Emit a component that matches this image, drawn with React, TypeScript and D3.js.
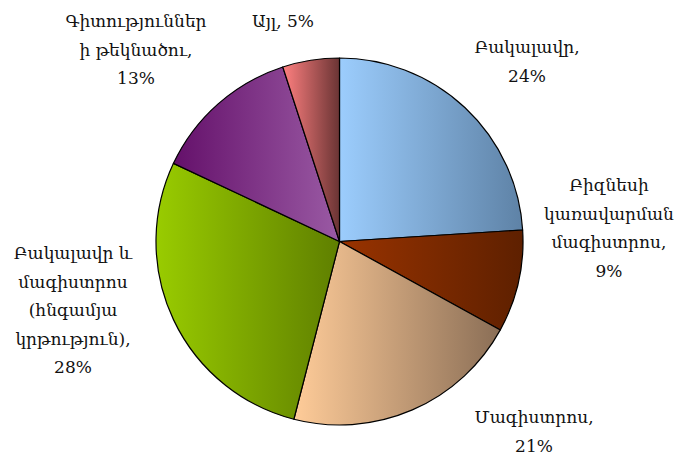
import React, { useRef, useEffect } from 'react';
import * as d3 from 'd3';

const categories = [
  ['Բակալավր,'],
  ['Բիզնեսի', 'կառավարման', 'մագիստրոս,'],
  ['Մագիստրոս,'],
  ['Բակալավր և', 'մագիստրոս', '(հնգամյա', 'կրթություն),'],
  ['Գիտություններ', 'ի թեկնածու,'],
  ['Այլ,'],
];
const values = [24, 9, 21, 28, 13, 5];
const gradientStops = [
  ['#9ccdfd', '#5e82a6'],
  ['#993300', '#5e2000'],
  ['#ffcc99', '#8a6e56'],
  ['#99cc00', '#5f7f00'],
  ['#64106a', '#9a5aa4'],
  ['#ff8080', '#6a3434'],
];
// label block centre (x) and first baseline (y)
const labelPos: [number, number, boolean][] = [
  [527, 53, false],
  [609, 191, false],
  [534, 423, false],
  [73, 259, false],
  [136, 27, false],
  [283, 27, true],
];

export default function App() {
  const svgRef = useRef<SVGSVGElement>(null);

  useEffect(() => {
    if (!svgRef.current) return;
    const width = 681;
    const height = 457;
    const cx = 339.5;
    const cy = 241.5;
    const radius = 183.5;
    const lineH = 28.5;

    const svg = d3.select(svgRef.current);
    svg.selectAll('*').remove();

    const defs = svg.append('defs');
    gradientStops.forEach((c, i) => {
      const g = defs.append('linearGradient')
        .attr('id', `grad${i}`)
        .attr('x1', '0').attr('x2', '1').attr('y1', '0').attr('y2', '0');
      g.append('stop').attr('offset', '0%').attr('stop-color', c[0]);
      g.append('stop').attr('offset', '100%').attr('stop-color', c[1]);
    });

    const pie = d3.pie<number>().sort(null).value(d => d);
    const arc = d3.arc<d3.PieArcDatum<number>>().innerRadius(0).outerRadius(radius);

    const g = svg.append('g').attr('transform', `translate(${cx},${cy})`);
    g.selectAll('path')
      .data(pie(values))
      .enter()
      .append('path')
      .attr('d', arc)
      .attr('fill', (d, i) => `url(#grad${i})`)
      .attr('stroke', '#000')
      .attr('stroke-width', 1.2)
      .attr('stroke-linejoin', 'round');

    const labels = svg.append('g')
      .style('font-family', '"DejaVu Serif", serif')
      .style('font-size', '17px')
      .attr('fill', '#111')
      .attr('text-anchor', 'middle');

    categories.forEach((lines, i) => {
      const [x, y, inline] = labelPos[i];
      const all = inline ? [`${lines[0]} ${values[i]}%`] : [...lines, `${values[i]}%`];
      const t = labels.append('text').attr('x', x).attr('y', y);
      all.forEach((ln, j) => {
        t.append('tspan').attr('x', x).attr('y', y + j * lineH).text(ln);
      });
    });

    svg.attr('width', width).attr('height', height);
  }, []);

  return (
    <div style={{ position: 'absolute', left: 0, top: 0, background: '#fff' }}>
      <svg ref={svgRef} width={681} height={457} style={{ display: 'block' }} />
    </div>
  );
}
